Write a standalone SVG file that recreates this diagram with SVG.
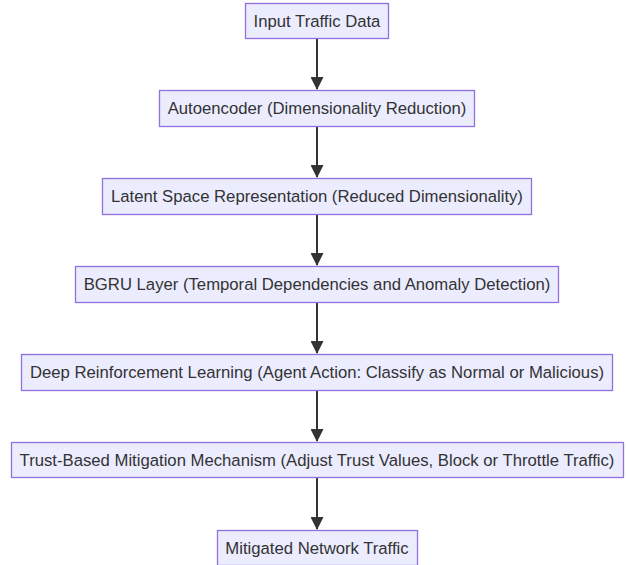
<svg xmlns="http://www.w3.org/2000/svg" width="627" height="565" viewBox="0 0 627 565">
<style>
.box{fill:#ECECFF;stroke:#9370DB;stroke-width:1.3}
.lbl{font-family:"Liberation Sans",Arial,sans-serif;font-size:16.7px;fill:#333;text-anchor:middle;dominant-baseline:central}
.edge{stroke:#333;stroke-width:2;fill:none}
</style>
<defs>
<marker id="arr" markerWidth="13" markerHeight="13" refX="12" refY="6.5" orient="auto" markerUnits="userSpaceOnUse">
<path d="M0,0 L13,6.5 L0,13 Z" fill="#333"/>
</marker>
</defs>
<rect width="627" height="565" fill="#fff"/>
<g id="edges">
<line class="edge" x1="317" y1="39" x2="317" y2="89" marker-end="url(#arr)"/>
<line class="edge" x1="317" y1="126" x2="317" y2="177" marker-end="url(#arr)"/>
<line class="edge" x1="317" y1="214" x2="317" y2="265" marker-end="url(#arr)"/>
<line class="edge" x1="317" y1="302" x2="317" y2="353" marker-end="url(#arr)"/>
<line class="edge" x1="317" y1="390" x2="317" y2="441" marker-end="url(#arr)"/>
<line class="edge" x1="317" y1="477" x2="317" y2="529" marker-end="url(#arr)"/>
</g>
<g id="n1"><rect class="box" x="245.5" y="3.5" width="143" height="35"/><text class="lbl" x="317" y="21">Input Traffic Data</text></g>
<g id="n2"><rect class="box" x="159.5" y="90.5" width="315" height="36"/><text class="lbl" x="317" y="108.5">Autoencoder (Dimensionality Reduction)</text></g>
<g id="n3"><rect class="box" x="102.5" y="178.5" width="429" height="36"/><text class="lbl" x="317" y="196.5">Latent Space Representation (Reduced Dimensionality)</text></g>
<g id="n4"><rect class="box" x="75.5" y="266.5" width="483" height="36"/><text class="lbl" x="317" y="284.5">BGRU Layer (Temporal Dependencies and Anomaly Detection)</text></g>
<g id="n5"><rect class="box" x="21.5" y="354.5" width="591" height="36"/><text class="lbl" x="317" y="372.5">Deep Reinforcement Learning (Agent Action: Classify as Normal or Malicious)</text></g>
<g id="n6"><rect class="box" x="11.5" y="442.5" width="612" height="35"/><text class="lbl" x="317" y="460">Trust-Based Mitigation Mechanism (Adjust Trust Values, Block or Throttle Traffic)</text></g>
<g id="n7"><rect class="box" x="217.5" y="530.5" width="200" height="35"/><text class="lbl" x="317" y="548">Mitigated Network Traffic</text></g>
</svg>
